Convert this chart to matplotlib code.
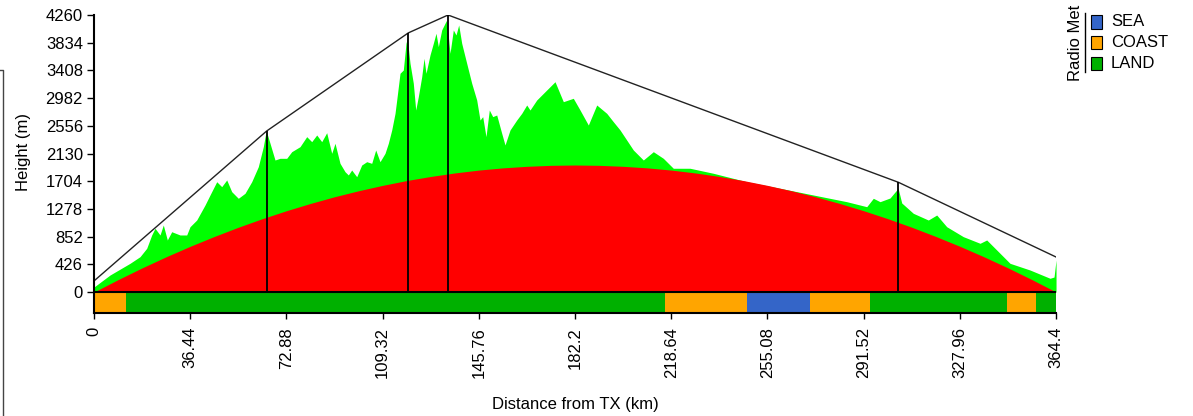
import matplotlib.pyplot as plt
from matplotlib.patches import Rectangle
from matplotlib.lines import Line2D

plt.rcParams['font.family'] = ['Liberation Sans', 'DejaVu Sans']

# terrain profile (ground + earth bulge), km / m
terrain_km = [0.0, 6.06, 13.64, 17.42, 19.96, 21.86, 23.11, 25.0, 26.25, 27.77,
              29.43, 32.58, 35.11, 36.36, 38.90, 42.05, 43.94, 46.48, 48.37, 50.27,
              52.16, 54.66, 57.20, 59.73, 62.23, 64.13, 65.04, 65.34, 66.67, 68.56,
              70.45, 72.99, 74.89, 78.03, 80.57, 82.46, 84.36, 86.25, 88.14, 90.04,
              91.29, 93.18, 95.08, 96.33, 97.61, 99.51, 101.40, 103.30, 105.19, 106.70,
              108.33, 110.23, 111.48, 112.77, 114.02, 114.66, 115.91, 117.16, 118.18, 118.67,
              119.70, 120.95, 121.86, 122.84, 124.13, 125.0, 125.76, 127.27, 128.52, 129.55,
              130.42, 131.70, 132.95, 133.60, 134.85, 136.10, 137.12, 138.14, 139.28, 141.17,
              143.07, 144.96, 146.21, 147.23, 148.48, 149.73, 151.02, 152.54, 154.43, 155.68,
              157.58, 160.11, 162.01, 163.90, 165.15, 167.69, 171.48, 174.62, 177.77, 181.55,
              184.09, 187.24, 190.42, 194.20, 196.70, 199.24, 204.28, 208.07, 211.86, 215.64,
              219.43, 225.76, 234.58, 247.23, 259.85, 272.46, 285.11, 292.69, 295.19, 297.73,
              301.52, 304.05, 304.55, 305.95, 310.34, 316.02, 319.20, 322.99, 329.28, 335.61,
              338.14, 341.93, 346.97, 354.55, 362.12, 363.64, 364.4]
terrain_m = [77, 261, 441, 543, 672, 877, 980, 877, 1030, 800,
             927, 877, 877, 1004, 1107, 1338, 1492, 1696, 1620, 1723,
             1543, 1441, 1518, 1696, 1927, 2235, 2441, 2466, 2287, 2030,
             2056, 2056, 2158, 2235, 2389, 2312, 2415, 2312, 2450, 2133,
             2287, 1979, 1850, 1800, 1876, 1773, 1953, 2004, 1979, 2184,
             2004, 2133, 2287, 2492, 2748, 2953, 3364, 3414, 3825, 3902,
             3517, 3210, 2799, 3004, 3311, 3594, 3364, 3645, 3825, 3979,
             3773, 4030, 4133, 4184, 3671, 4030, 3953, 4107, 3825, 3517,
             3210, 2953, 2645, 2697, 2389, 2799, 2697, 2722, 2441, 2261,
             2492, 2645, 2748, 2876, 2799, 2953, 3107, 3234, 2927, 2979,
             2799, 2568, 2876, 2748, 2619, 2492, 2184, 2030, 2158, 2056,
             1903, 1903, 1826, 1696, 1595, 1492, 1389, 1312, 1441, 1389,
             1446, 1569, 1600, 1369, 1210, 1107, 1184, 1004, 851, 749,
             800, 646, 441, 338, 211, 230, 492]

# earth bulge
bulge_km = [0, 9.11, 18.22, 27.33, 36.44, 45.55, 54.66, 63.77, 72.88, 81.99,
            91.1, 100.21, 109.32, 118.43, 127.54, 136.65, 145.76, 154.87, 163.98, 173.09,
            182.2, 191.31, 200.42, 209.53, 218.64, 227.75, 236.86, 245.97, 255.08, 264.19,
            273.3, 282.41, 291.52, 300.63, 309.74, 318.85, 327.96, 337.07, 346.18, 355.29, 364.4]
bulge_m = [0, 190, 371, 542, 703, 854, 996, 1128, 1250, 1362,
           1465, 1557, 1640, 1714, 1777, 1831, 1875, 1909, 1933, 1948,
           1953, 1948, 1933, 1909, 1875, 1831, 1777, 1714, 1640, 1557,
           1465, 1362, 1250, 1128, 996, 854, 703, 542, 371, 190, 0]

# link path and the masts along it
path_km = [0, 65.4, 119.05, 134.1, 304.7, 364.4]
path_m = [170, 2476, 3985, 4260, 1687, 538]
mast_km = [65.4, 119.05, 134.1, 304.7]
mast_m = [2476, 3985, 4260, 1687]

# radio-met zones along the path
zone_start = [0, 12.12, 216.4, 247.2, 271.1, 293.9, 345.8, 356.8]
zone_end = [12.12, 216.4, 247.2, 271.1, 293.9, 345.8, 356.8, 364.4]
zone_type = ['COAST', 'LAND', 'COAST', 'SEA', 'COAST', 'LAND', 'COAST', 'LAND']
zone_colors = {'SEA': '#3465c8', 'COAST': '#ffa500', 'LAND': '#00b000'}

y_ticks = [0, 426, 852, 1278, 1704, 2130, 2556, 2982, 3408, 3834, 4260]
x_ticks = [0, 36.44, 72.88, 109.32, 145.76, 182.2, 218.64, 255.08, 291.52, 327.96, 364.4]
x_tick_labels = ['0', '36.44', '72.88', '109.32', '145.76', '182.2', '218.64',
                 '255.08', '291.52', '327.96', '364.4']

band_h = 323

fig = plt.figure(figsize=(11.93, 4.16), dpi=100)
ax = fig.add_axes([0.0788, 0.2476, 0.8064, 0.7163])

ax.fill_between(terrain_km, 0, terrain_m, color='#00ff00', lw=0)
ax.fill_between(bulge_km, 0, bulge_m, color='#ff0000', lw=0)
ax.plot(path_km, path_m, color='#222222', lw=1.0)
ax.vlines(mast_km, 0, mast_m, color='black', lw=1.3)

for s, e, t in zip(zone_start, zone_end, zone_type):
    ax.broken_barh([(s, e - s)], (-band_h, band_h), facecolors=zone_colors[t], lw=0)
ax.axhline(0, color='black', lw=1.5)

ax.set_xlim(0, 364.4)
ax.set_ylim(-band_h, 4260)
ax.spines['top'].set_visible(False)
ax.spines['right'].set_visible(False)
ax.spines['left'].set_linewidth(1.5)
ax.spines['bottom'].set_linewidth(1.5)
ax.set_yticks(y_ticks)
ax.set_xticks(x_ticks)
ax.set_xticklabels(x_tick_labels, rotation=90)
ax.tick_params(axis='y', length=5, width=1, pad=3, labelsize=12)
ax.tick_params(axis='x', length=4, width=1, pad=6, labelsize=12)

ax.set_xlabel('Distance from TX (km)', fontsize=12, labelpad=14)
ax.set_ylabel('Height (m)', fontsize=12)
ax.yaxis.set_label_coords(-0.0655, 0.54)

# legend: rotated title, divider, colour keys
W, H = 1193.0, 416.0
fig.text(1075 / W, 1 - 43 / H, 'Radio Met', rotation=90, ha='center', va='center', fontsize=12)
fig.add_artist(Line2D([1085 / W, 1085 / W], [1 - 13 / H, 1 - 72 / H], color='black', lw=1))
for i, name in enumerate(['SEA', 'COAST', 'LAND']):
    top = 15 + i * 20.8
    fig.add_artist(Rectangle((1090.7 / W, 1 - (top + 13.5) / H), 11 / W, 13.5 / H,
                             facecolor=zone_colors[name], edgecolor='black', lw=0.8))
    fig.text(1111 / W, 1 - (top + 7) / H, name, ha='left', va='center', fontsize=12)

# page frame edge on the left
fig.add_artist(Line2D([0, 3 / W, 3 / W], [1 - 70 / H, 1 - 70 / H, 0], color='#444444', lw=1))

fig.savefig('out.png', dpi=100)
